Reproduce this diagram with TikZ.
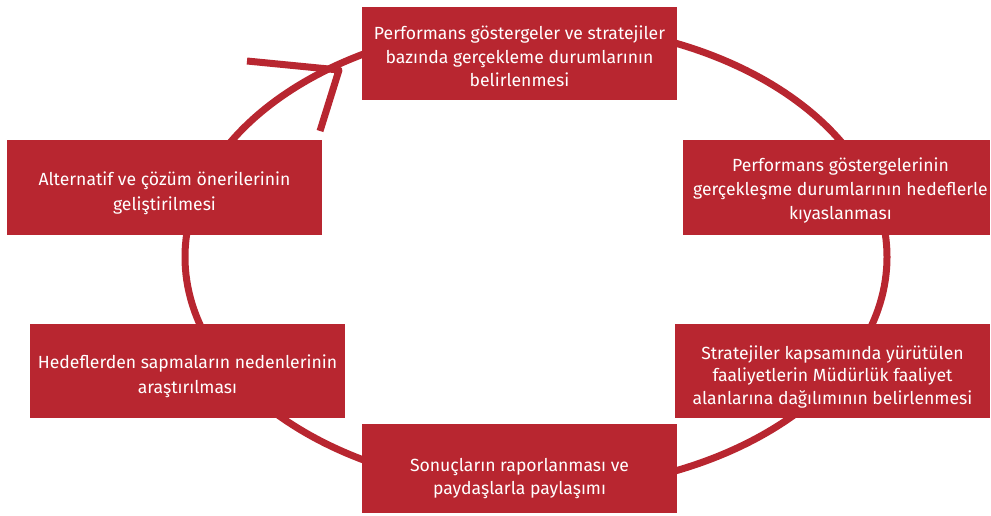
\documentclass[tikz,border=0pt]{standalone}
\usepackage{fontspec}
\setmainfont{Fira Sans}
\definecolor{boxred}{RGB}{184,38,48}
\begin{document}
\begin{tikzpicture}[x=1pt,y=-1pt,
  box/.style={fill=boxred, draw=none, inner sep=0pt, minimum width=315pt, minimum height=94pt},
  label/.style={text=white, align=center, inner sep=0pt, font=\fontsize{17.6}{24}\selectfont},
  ring/.style={draw=boxred, line width=7pt}]
\useasboundingbox (0,0) rectangle (991,515);
\draw[ring] (536,257) ellipse [x radius=351pt, y radius=233pt];
\coordinate (tip) at (339,70);
\coordinate (barbA) at (247,61);
\coordinate (barbB) at (320,131);
\draw[ring, line join=round] (barbA) -- (tip) -- (barbB);

\node[box, minimum height=93pt] (top) at (519.5,53.5) {};
\node[box, minimum height=95pt] (alt) at (164.5,187.5) {};
\node[box, minimum width=307pt, minimum height=95pt] (perf) at (836.5,187.5) {};
\node[box] (hedef) at (187.5,371) {};
\node[box] (strat) at (832.5,371) {};
\node[box, minimum height=89pt] (sonuc) at (519.5,468.5) {};

\node[label, font=\fontsize{17.6}{23.5}\selectfont] (topT) at ([yshift=-3pt]top.center) {Performans göstergeler ve stratejiler\\bazında gerçekleme durumlarının\\belirlenmesi};
\node[label, font=\fontsize{17.6}{25}\selectfont] (altT) at ([yshift=-6pt]alt.center) {Alternatif ve çözüm önerilerinin\\geliştirilmesi};
\node[label] (perfT) at ([xshift=4pt,yshift=-3.5pt]perf.center) {Performans göstergelerinin\\gerçekleşme durumlarının hedeflerle\\kıyaslanması};
\node[label, font=\fontsize{17.6}{25.5}\selectfont] (hedefT) at ([yshift=-5pt]hedef.center) {Hedeflerden sapmaların nedenlerinin\\araştırılması};
\node[label, font=\fontsize{17.6}{22.5}\selectfont] (stratT) at ([yshift=-6pt]strat.center) {Stratejiler kapsamında yürütülen\\faaliyetlerin Müdürlük faaliyet\\alanlarına dağılımının belirlenmesi};
\node[label, font=\fontsize{17.6}{23}\selectfont] (sonucT) at ([yshift=-10pt]sonuc.center) {Sonuçların raporlanması ve\\paydaşlarla paylaşımı};
\end{tikzpicture}
\end{document}
